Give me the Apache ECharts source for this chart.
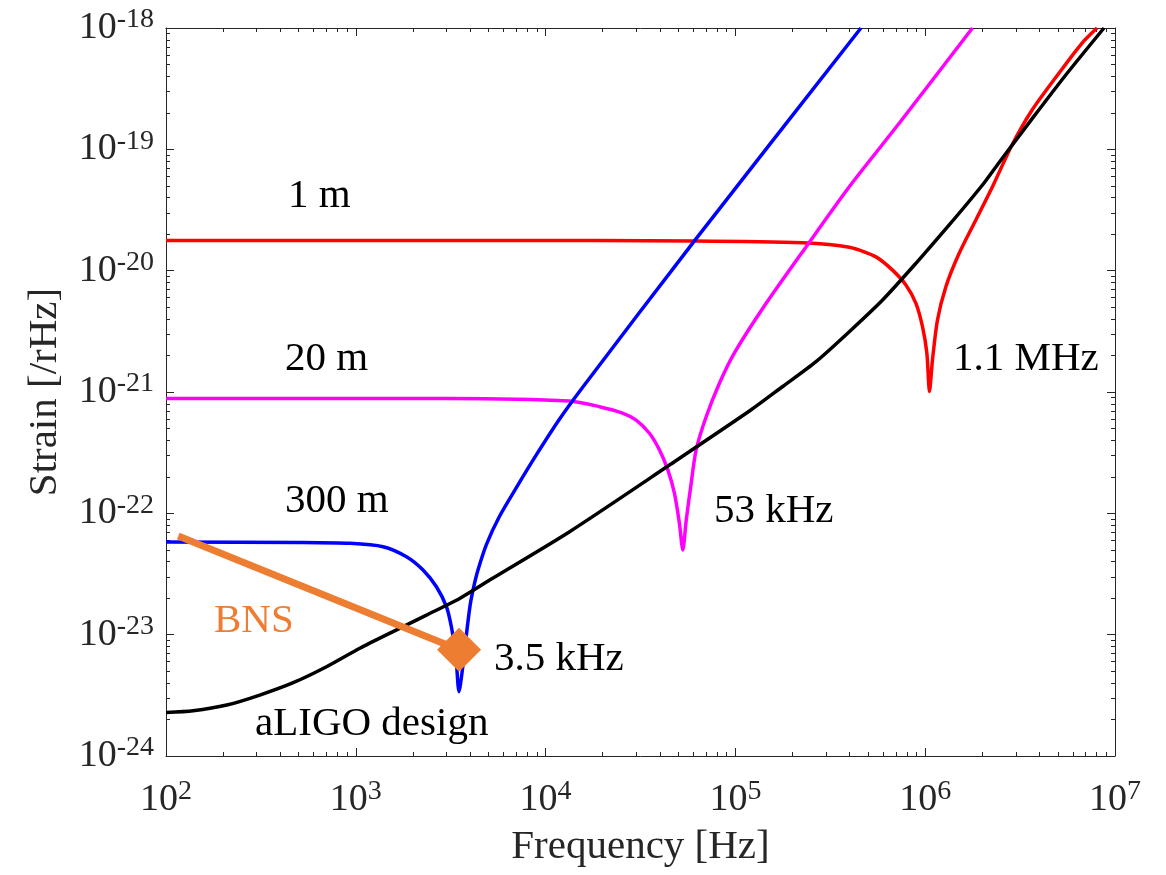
<!DOCTYPE html>
<html>
<head>
<meta charset="utf-8">
<title>Strain sensitivity</title>
<script src="https://cdn.jsdelivr.net/npm/echarts@6/dist/echarts.min.js"></script>
<style>
  html, body { margin: 0; padding: 0; background: #fff; }
  #chart { width: 1166px; height: 875px; }
</style>
</head>
<body>
<div id="chart"></div>
<script>
// [frequency Hz, strain /rHz]
const red1m = [
  [100, 1.77e-20], [5730, 1.77e-20], [60800, 1.76e-20], [226100, 1.70e-20], [398100, 1.56e-20],
  [550300, 1.30e-20], [672900, 1.01e-20], [791300, 7.62e-21], [893600, 5.38e-21], [967900, 3.45e-21],
  [1020700, 2.08e-21], [1053400, 1.01e-21], [1092400, 1.84e-21], [1160600, 3.92e-21], [1285200, 7.38e-21],
  [1509800, 1.39e-20], [1848700, 2.62e-20], [2261200, 4.92e-20], [2870400, 1.09e-19], [3658000, 2.11e-19],
  [5074000, 4.26e-19], [6705000, 7.52e-19], [8040000, 1e-18]
]
const magenta20m = [
  [100, 8.85e-22], [3126, 8.85e-22], [13370, 8.43e-22], [19230, 7.57e-22], [25410, 6.71e-22],
  [29990, 5.87e-22], [35240, 4.57e-22], [39810, 3.33e-22], [44060, 2.28e-22], [47750, 1.46e-22],
  [50700, 8.28e-23], [52840, 4.99e-23], [55080, 8.81e-23], [58480, 1.77e-22], [62090, 3.33e-22],
  [70150, 6.25e-22], [82410, 1.18e-21], [98850, 2.10e-21], [145200, 5.38e-21],
  [235500, 1.57e-20], [398100, 4.92e-20], [729400, 1.64e-19], [1774000, 1e-18]
]
const blue300m = [
  [100, 5.80e-23], [507, 5.75e-23], [930, 5.66e-23], [1392, 5.31e-23], [1849, 4.39e-23],
  [2261, 3.41e-23], [2659, 2.48e-23], [3002, 1.70e-23], [3189, 1.16e-23], [3360, 7.02e-24],
  [3498, 3.39e-24], [3671, 5.62e-24], [3824, 9.93e-24], [4005, 1.76e-23], [4179, 2.47e-23],
  [4403, 3.41e-23], [4875, 5.53e-23], [5727, 9.50e-23], [7014, 1.63e-22], [8935, 3.03e-22],
  [11850, 5.99e-22], [15720, 1.10e-21], [60830, 1.76e-20], [458700, 1e-18]
]
const aligoDesign = [
  [100, 2.28e-24], [139, 2.36e-24], [209, 2.63e-24], [312, 3.18e-24], [468, 4.02e-24],
  [701, 5.44e-24], [1050, 7.72e-24], [1572, 1.06e-23], [2356, 1.45e-23], [3527, 1.99e-23],
  [5074, 2.82e-23], [13380, 7.06e-23], [44940, 2.50e-22], [118500, 6.97e-22], [177400, 1.11e-21],
  [265900, 1.78e-21], [398100, 3.14e-21], [596200, 5.73e-21], [893600, 1.15e-20], [1338000, 2.38e-20],
  [2003000, 5.08e-20], [2452000, 7.79e-20], [3671000, 1.80e-19], [5502000, 4.10e-19], [8751000, 1e-18]
]
const bnsLine = [[116, 6.5e-23], [3500, 7.5e-24]]

const xDecades = [2, 3, 4, 5, 6, 7]
const yDecades = [-24, -23, -22, -21, -20, -19, -18]

// strain is far too small for the log scale's rounding, so the y axis is a
// value axis over log10(strain)
const toPlot = pts => pts.map(p => [p[0], Math.log10(p[1])])

function xMinorTicks() {
  let out = []
  xDecades.slice(0, -1).forEach(d => {
    for (let m = 2; m <= 9; m++) out.push(m * Math.pow(10, d))
  })
  return out
}
function yMinorTicks() {
  let out = []
  yDecades.slice(0, -1).forEach(d => {
    for (let m = 2; m <= 9; m++) out.push(d + Math.log10(m))
  })
  return out
}

const chart = echarts.init(document.getElementById('chart'), null, { renderer: 'canvas' })

const serif = '"Liberation Serif", "Times New Roman", serif'
const axisColor = '#262626'

const tickRich = {
  b: { fontFamily: serif, fontSize: 38, color: axisColor, lineHeight: 44 },
  s: { fontFamily: serif, fontSize: 28, color: axisColor, lineHeight: 16, verticalAlign: 'top' }
}

function baseAxis(opts) {
  return Object.assign({
    axisLine: { show: true, onZero: false, lineStyle: { color: axisColor, width: 1 } },
    axisTick: { show: true, inside: true, length: 8, lineStyle: { color: axisColor } },
    axisLabel: { show: false },
    splitLine: { show: false },
    minorTick: { show: false }
  }, opts)
}

function xAxisAt(pos, opts) {
  return baseAxis(Object.assign({
    type: 'log', logBase: 10, position: pos,
    min: Math.pow(10, xDecades[0]), max: Math.pow(10, xDecades[xDecades.length - 1])
  }, opts))
}
function yAxisAt(pos, opts) {
  return baseAxis(Object.assign({
    type: 'value', position: pos,
    min: yDecades[0], max: yDecades[yDecades.length - 1], interval: 1
  }, opts))
}

const minorTick = vals => ({ show: true, inside: true, length: 4, customValues: vals, lineStyle: { color: axisColor } })

function curve(name, data, color, z) {
  return {
    name: name, type: 'line', data: toPlot(data), z: z,
    showSymbol: false, smooth: 0.25,
    lineStyle: { color: color, width: 3.5 }
  }
}

const option = {
  animation: false,
  backgroundColor: '#fff',
  grid: { left: 166, right: 51, top: 28, bottom: 119, containLabel: false },
  xAxis: [
    xAxisAt('bottom', {
      axisLabel: {
        show: true, margin: 22, rich: tickRich,
        formatter: v => '{b|10}{s|' + Math.round(Math.log10(v)) + '}'
      },
      name: 'Frequency [Hz]',
      nameLocation: 'middle',
      nameGap: 71,
      nameTextStyle: { fontFamily: serif, fontSize: 41, color: axisColor }
    }),
    xAxisAt('top'),
    xAxisAt('bottom', { axisLine: { show: false }, axisTick: minorTick(xMinorTicks()) }),
    xAxisAt('top', { axisLine: { show: false }, axisTick: minorTick(xMinorTicks()) })
  ],
  yAxis: [
    yAxisAt('left', {
      axisLabel: {
        show: true, margin: 12, rich: tickRich,
        formatter: v => '{b|10}{s|' + Math.round(v) + '}'
      },
      name: 'Strain [/rHz]',
      nameLocation: 'middle',
      nameGap: 100,
      nameTextStyle: { fontFamily: serif, fontSize: 41, color: axisColor }
    }),
    yAxisAt('right'),
    yAxisAt('left', { axisLine: { show: false }, axisTick: minorTick(yMinorTicks()) }),
    yAxisAt('right', { axisLine: { show: false }, axisTick: minorTick(yMinorTicks()) })
  ],
  series: [
    curve('1 m', red1m, '#ff0000', 2),
    curve('20 m', magenta20m, '#ff00ff', 3),
    curve('300 m', blue300m, '#0000ff', 4),
    curve('aLIGO design', aligoDesign, '#000000', 5),
    {
      name: 'BNS', type: 'line', z: 6,
      data: toPlot(bnsLine).map((p, i) => i === bnsLine.length - 1
        ? { value: p, symbol: 'diamond', symbolSize: 44, itemStyle: { color: '#ED7D31' } }
        : { value: p, symbol: 'none' }),
      showAllSymbol: true,
      lineStyle: { color: '#ED7D31', width: 7, cap: 'butt' },
      itemStyle: { color: '#ED7D31' }
    }
  ],
  graphic: [
    { type: 'text', x: 288, y: 196, style: { text: '1 m', font: '41px ' + serif, fill: '#000', verticalAlign: 'middle' } },
    { type: 'text', x: 285, y: 359, style: { text: '20 m', font: '41px ' + serif, fill: '#000', verticalAlign: 'middle' } },
    { type: 'text', x: 285, y: 501, style: { text: '300 m', font: '41px ' + serif, fill: '#000', verticalAlign: 'middle' } },
    { type: 'text', x: 214, y: 621, style: { text: 'BNS', font: '41px ' + serif, fill: '#ED7D31', verticalAlign: 'middle' } },
    { type: 'text', x: 494, y: 659, style: { text: '3.5 kHz', font: '41px ' + serif, fill: '#000', verticalAlign: 'middle' } },
    { type: 'text', x: 255, y: 724, style: { text: 'aLIGO design', font: '41px ' + serif, fill: '#000', verticalAlign: 'middle' } },
    { type: 'text', x: 714, y: 511, style: { text: '53 kHz', font: '41px ' + serif, fill: '#000', verticalAlign: 'middle' } },
    { type: 'text', x: 953, y: 359, style: { text: '1.1 MHz', font: '41px ' + serif, fill: '#000', verticalAlign: 'middle' } }
  ]
}

chart.setOption(option)
window.addEventListener('resize', () => chart.resize())
</script>
</body>
</html>
